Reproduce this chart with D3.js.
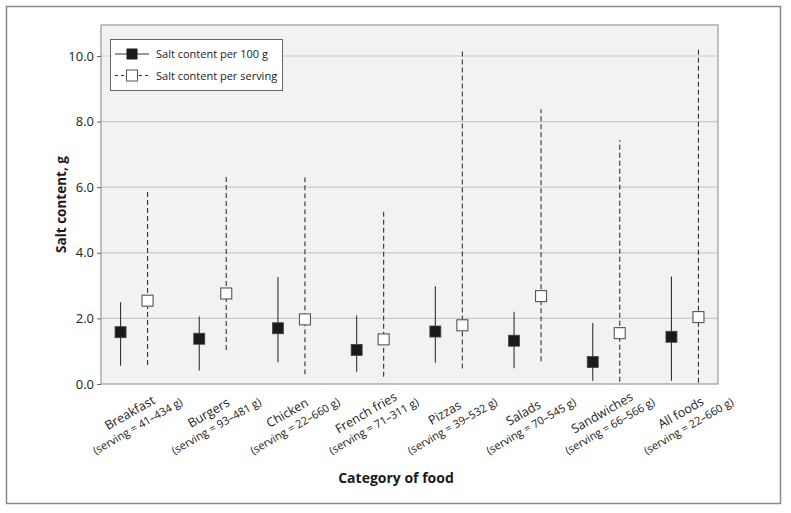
<!DOCTYPE html>
<html><head><meta charset="utf-8">
<script src="https://cdn.jsdelivr.net/npm/d3@7"></script>
<style>body{margin:0;background:#fff}svg{display:block}</style>
</head><body>
<svg id="c" width="791" height="513"></svg>
<script>
const categories = ["Breakfast","Burgers","Chicken","French fries","Pizzas","Salads","Sandwiches","All foods"];
const servingRanges = ["(serving = 41–434 g)","(serving = 93–481 g)","(serving = 22–660 g)","(serving = 71–311 g)","(serving = 39–532 g)","(serving = 70–545 g)","(serving = 66–566 g)","(serving = 22–660 g)"];
const per100Mean = [1.58,1.38,1.70,1.04,1.60,1.32,0.67,1.44];
const per100Min  = [0.56,0.41,0.66,0.37,0.65,0.48,0.10,0.10];
const per100Max  = [2.49,2.06,3.26,2.09,2.98,2.20,1.86,3.28];
const servMean = [2.54,2.76,1.97,1.36,1.79,2.68,1.55,2.04];
const servMin  = [0.58,1.04,0.30,0.22,0.47,0.69,0.07,0.04];
const servMax  = [5.94,6.34,6.34,5.33,10.22,8.38,7.44,10.28];
const yTicks = [0,2,4,6,8,10];
const legendLabels = ["Salt content per 100 g","Salt content per serving"];

const svg = d3.select("#c");
const font = "'Open Sans', 'Noto Sans', sans-serif";
const P = {l:101, r:718, t:25, b:384};

// outer frame
svg.append("rect").attr("x",6.5).attr("y",6.5).attr("width",774).attr("height",497)
  .attr("fill","#fff").attr("stroke","#8a8a8a").attr("stroke-width",1.5);

const x = d3.scalePoint().domain(categories).range([P.l,P.r]).padding(0.42);
const y = d3.scaleLinear().domain([0,10]).range([P.b,56]);

svg.append("rect").attr("x",P.l).attr("y",P.t).attr("width",P.r-P.l).attr("height",P.b-P.t)
  .attr("fill","#f2f2f2");

// grid
svg.append("g").selectAll("line").data(yTicks.filter(d=>d>0)).join("line")
  .attr("x1",P.l).attr("x2",P.r).attr("y1",d=>y(d)).attr("y2",d=>y(d))
  .attr("stroke","#c9c9c9").attr("stroke-width",1.2);

svg.append("rect").attr("x",P.l).attr("y",P.t).attr("width",P.r-P.l).attr("height",P.b-P.t)
  .attr("fill","none").attr("stroke","#999").attr("stroke-width",1.2);

// y axis
const yAxis = d3.axisLeft(y).tickValues(yTicks).tickFormat(d3.format(".1f")).tickSize(4).tickPadding(3);
const ga = svg.append("g").attr("transform",`translate(${P.l},0)`).call(yAxis);
ga.select(".domain").remove();
ga.selectAll("line").attr("stroke","#666");
ga.selectAll("text").attr("font-family",font).attr("font-size",13).attr("fill","#222");

svg.append("text").attr("transform",`translate(66,${(P.t+P.b)/2}) rotate(-90)`)
  .attr("text-anchor","middle").attr("font-family",font).attr("font-weight","bold")
  .attr("font-size",13.5).attr("fill","#1a1a1a").text("Salt content, g");

const off = 13.5, ms = 11;
const idx = d3.range(categories.length);
// whiskers
svg.append("g").selectAll("line").data(idx).join("line")
  .attr("x1",i=>x(categories[i])-off).attr("x2",i=>x(categories[i])-off)
  .attr("y1",i=>y(per100Min[i])).attr("y2",i=>y(per100Max[i]))
  .attr("stroke","#333").attr("stroke-width",1.1);
svg.append("g").selectAll("line").data(idx).join("line")
  .attr("x1",i=>x(categories[i])+off).attr("x2",i=>x(categories[i])+off)
  .attr("y1",i=>y(servMin[i])).attr("y2",i=>y(servMax[i]))
  .attr("stroke","#333").attr("stroke-width",1.1).attr("stroke-dasharray","5,3");
// markers
svg.append("g").selectAll("rect").data(idx).join("rect")
  .attr("x",i=>x(categories[i])-off-ms/2).attr("y",i=>y(per100Mean[i])-ms/2)
  .attr("width",ms).attr("height",ms).attr("fill","#1a1a1a").attr("stroke","#444").attr("stroke-width",0.8);
svg.append("g").selectAll("rect").data(idx).join("rect")
  .attr("x",i=>x(categories[i])+off-ms/2).attr("y",i=>y(servMean[i])-ms/2)
  .attr("width",ms).attr("height",ms).attr("fill","#fff").attr("stroke","#555").attr("stroke-width",1.1);

// x labels
const xl = svg.append("g").selectAll("g").data(idx).join("g")
  .attr("transform",i=>`translate(${x(categories[i])},420) rotate(-30)`);
xl.append("text").attr("text-anchor","middle").attr("y",-4).attr("font-family",font)
  .attr("font-size",12.5).attr("fill","#222").text(i=>categories[i]);
xl.append("text").attr("text-anchor","middle").attr("y",11).attr("font-family",font)
  .attr("font-size",11).attr("fill","#222").text(i=>servingRanges[i]);

svg.append("text").attr("x",396).attr("y",483).attr("text-anchor","middle")
  .attr("font-family",font).attr("font-weight","bold").attr("font-size",14)
  .attr("fill","#1a1a1a").text("Category of food");

// legend
const lg = svg.append("g");
lg.append("rect").attr("x",110.5).attr("y",39.5).attr("width",172).attr("height",51)
  .attr("fill","#fff").attr("stroke","#666").attr("stroke-width",1);
const ly = [54,75.5];
lg.append("line").attr("x1",115).attr("x2",149).attr("y1",ly[0]).attr("y2",ly[0]).attr("stroke","#333");
lg.append("rect").attr("x",132-ms/2).attr("y",ly[0]-ms/2).attr("width",ms).attr("height",ms).attr("fill","#1a1a1a");
lg.append("line").attr("x1",115).attr("x2",149).attr("y1",ly[1]).attr("y2",ly[1]).attr("stroke","#333").attr("stroke-dasharray","3,3");
lg.append("rect").attr("x",132-ms/2).attr("y",ly[1]-ms/2).attr("width",ms).attr("height",ms).attr("fill","#fff").attr("stroke","#555");
lg.selectAll("text.l").data(legendLabels).join("text").attr("class","l")
  .attr("x",156).attr("y",(d,i)=>ly[i]+4).attr("font-family",font).attr("font-size",11)
  .attr("fill","#222").text(d=>d);
</script>
</body></html>
